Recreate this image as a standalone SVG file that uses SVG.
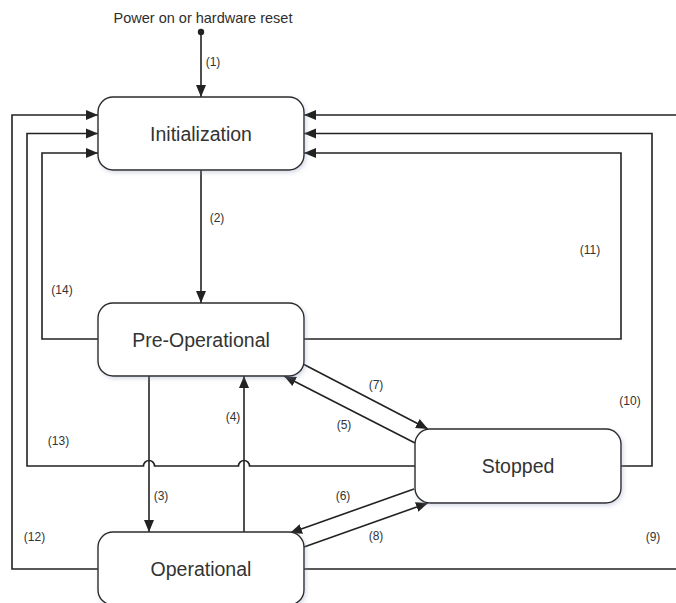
<svg xmlns="http://www.w3.org/2000/svg" width="676" height="603" viewBox="0 0 676 603">
<style>
.box{fill:#ffffff;stroke:#2b2b2b;stroke-width:1.4;filter:url(#shadow)}
.name{font-family:"Liberation Sans",Arial,sans-serif;font-size:19.5px;fill:#333333;text-anchor:middle}
.lbl{font-family:"Liberation Sans",Arial,sans-serif;font-size:12px;fill:#333333;text-anchor:middle}
.title{font-family:"Liberation Sans",Arial,sans-serif;font-size:14.5px;fill:#2e2e2e;text-anchor:middle}
.conn{fill:none;stroke:#222222;stroke-width:1.6}
.arr{marker-end:url(#ah)}
</style>
<defs>
<marker id="ah" viewBox="0 0 12 11" refX="12" refY="5.5" markerWidth="12" markerHeight="11" markerUnits="userSpaceOnUse" orient="auto">
<path d="M0,0.5 L12,5.5 L0,10.5 Z" fill="#222222"/>
</marker>
<filter id="shadow" x="-10%" y="-15%" width="125%" height="140%">
<feDropShadow dx="1.5" dy="2" stdDeviation="2" flood-color="#8a96b8" flood-opacity="0.35"/>
</filter>
</defs>

<g id="connectors">
<circle cx="201" cy="32" r="3.2" fill="#222222"/>
<path id="c1" class="conn arr" d="M201,32 V97"/>
<path id="c2" class="conn arr" d="M201,170 V303"/>
<path id="c3" class="conn arr" d="M149,376 V532"/>
<path id="c4" class="conn arr" d="M244,532 V376"/>
<path id="c5" class="conn arr" d="M415,443 L284,376"/>
<path id="c6" class="conn arr" d="M414,489 L290,533"/>
<path id="c7" class="conn arr" d="M303,364 L428,429"/>
<path id="c8" class="conn arr" d="M304,547 L428,503"/>
<path id="c9" class="conn arr" d="M304,569 H680 V115 H304"/>
<path id="c10" class="conn arr" d="M621,466 H652 V133.5 H304"/>
<path id="c11" class="conn arr" d="M304,339 H621 V153 H304"/>
<path id="c12" class="conn arr" d="M98,569 H12 V115 H98"/>
<path id="c13" class="conn arr" d="M415,466 H249.5 A5.5,5.5 0 0 0 238.5,466 H154.5 A5.5,5.5 0 0 0 143.5,466 H27 V133.5 H98"/>
<path id="c14" class="conn arr" d="M98,339 H42 V153 H98"/>
<text class="title" x="203" y="23">Power on or hardware reset</text>
<text class="lbl" x="213" y="66">(1)</text>
<text class="lbl" x="217" y="222">(2)</text>
<text class="lbl" x="161" y="500">(3)</text>
<text class="lbl" x="233" y="421">(4)</text>
<text class="lbl" x="344" y="429">(5)</text>
<text class="lbl" x="343" y="500">(6)</text>
<text class="lbl" x="376" y="389">(7)</text>
<text class="lbl" x="376" y="540">(8)</text>
<text class="lbl" x="653" y="541">(9)</text>
<text class="lbl" x="630" y="405">(10)</text>
<text class="lbl" x="590" y="254">(11)</text>
<text class="lbl" x="34.5" y="541">(12)</text>
<text class="lbl" x="58.5" y="445">(13)</text>
<text class="lbl" x="62" y="294">(14)</text>
</g>

<g id="initialization">
<rect class="box" x="98" y="97" width="206" height="73" rx="15" ry="15"/>
<text class="name" x="201" y="140.5">Initialization</text>
</g>
<g id="pre-operational">
<rect class="box" x="98" y="303" width="206" height="73" rx="15" ry="15"/>
<text class="name" x="201" y="346.5">Pre-Operational</text>
</g>
<g id="stopped">
<rect class="box" x="415" y="429" width="206" height="74" rx="15" ry="15"/>
<text class="name" x="518" y="473">Stopped</text>
</g>
<g id="operational">
<rect class="box" x="98" y="532" width="206" height="73" rx="15" ry="15"/>
<text class="name" x="201" y="575.5">Operational</text>
</g>
</svg>
